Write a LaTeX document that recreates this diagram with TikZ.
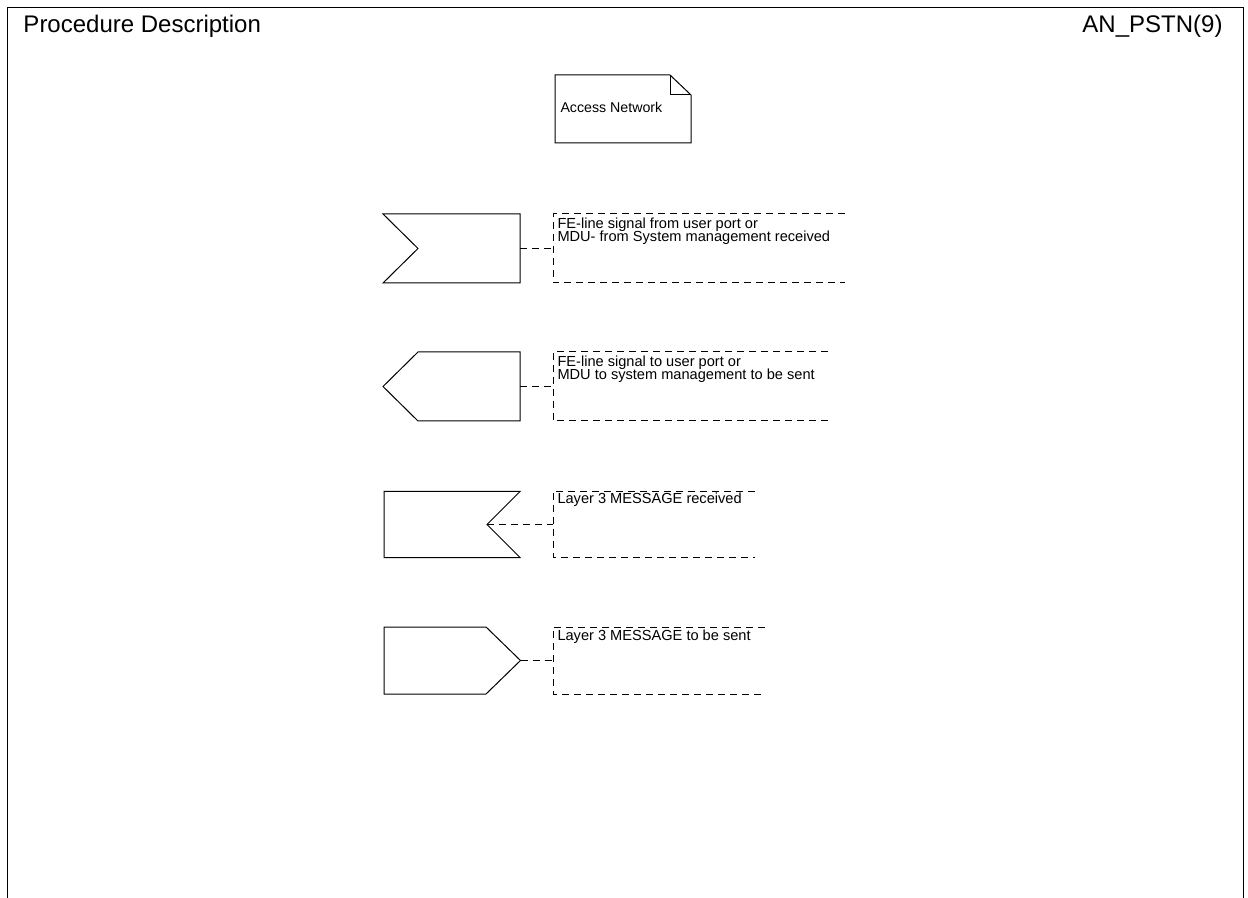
\documentclass[tikz,border=0pt]{standalone}
\usepackage{fontspec}
\setmainfont{Liberation Sans}
\usetikzlibrary{positioning}
\newcommand\cmtfont{\fontsize{7.3}{6.7}\selectfont\lineskiplimit=-5pt\relax}

\begin{document}
\begin{tikzpicture}[x=0.5pt,y=-0.5pt,line width=0.5pt,
  cmt/.style={dash pattern=on 3.5pt off 2.5pt},
  small/.style={font=\cmtfont, inner sep=0pt, align=left, anchor=base west},
  head/.style={font=\fontsize{12}{14}\selectfont, inner sep=0pt}]
\useasboundingbox (0,0) rectangle (1248,898);

% frame and heading
\draw (7,898) -- (7,8) -- (1243,8) -- (1243,898);
\node[head,anchor=base west] (title) at (23,33) {Procedure Description};
\node[head,anchor=base east] (page) at (1223,33) {AN\_PSTN(9)};

% text symbol
\draw (555,75) -- (670,75) -- (691,95) -- (691,143) -- (555,143) -- cycle;
\draw (670,75) -- (670,95) -- (691,95);
\node[small,font=\fontsize{7.1}{6.7}\selectfont] (an) at (560,113) {Access Network};

% input signal
\draw (383,214) -- (520,214) -- (520,283) -- (383,283) -- (418,248.5) -- cycle;
\coordinate (in1) at (520,248.5);
\coordinate (cm1) at (553,248.5);
\draw[cmt] (in1) -- (cm1);
\draw[cmt] (845,214) -- (553,214) -- (553,283) -- (845,283);
\node[small] (txt1) at (557,241.7) {FE-line signal from user port or\\MDU- from System management received};

% output signal
\draw (383,386.5) -- (418,352) -- (520,352) -- (520,421) -- (418,421) -- cycle;
\coordinate (out2) at (520,386.5);
\coordinate (cm2) at (553,386.5);
\draw[cmt] (out2) -- (cm2);
\draw[cmt] (828,352) -- (553,352) -- (553,421) -- (828,421);
\node[small] (txt2) at (557,379.7) {FE-line signal to user port or\\MDU to system management to be sent};

% layer 3 received
\draw (384,491.5) -- (520,491.5) -- (487,524.5) -- (520,557.5) -- (384,557.5) -- cycle;
\coordinate (in3) at (487,524.5);
\coordinate (cm3) at (553,524.5);
\draw[cmt] (in3) -- (cm3);
\draw[cmt] (755,491.5) -- (553,491.5) -- (553,557.5) -- (755,557.5);
\node[small] (txt3) at (557,503.5) {Layer 3 MESSAGE received};

% layer 3 sent
\draw (384,627) -- (486,627) -- (520.5,660.5) -- (486,694) -- (384,694) -- cycle;
\coordinate (out4) at (520.5,660.5);
\coordinate (cm4) at (553,660.5);
\draw[cmt] (out4) -- (cm4);
\draw[cmt] (765,627) -- (553,627) -- (553,694) -- (765,694);
\node[small] (txt4) at (557,640) {Layer 3 MESSAGE to be sent};

\end{tikzpicture}
\end{document}
